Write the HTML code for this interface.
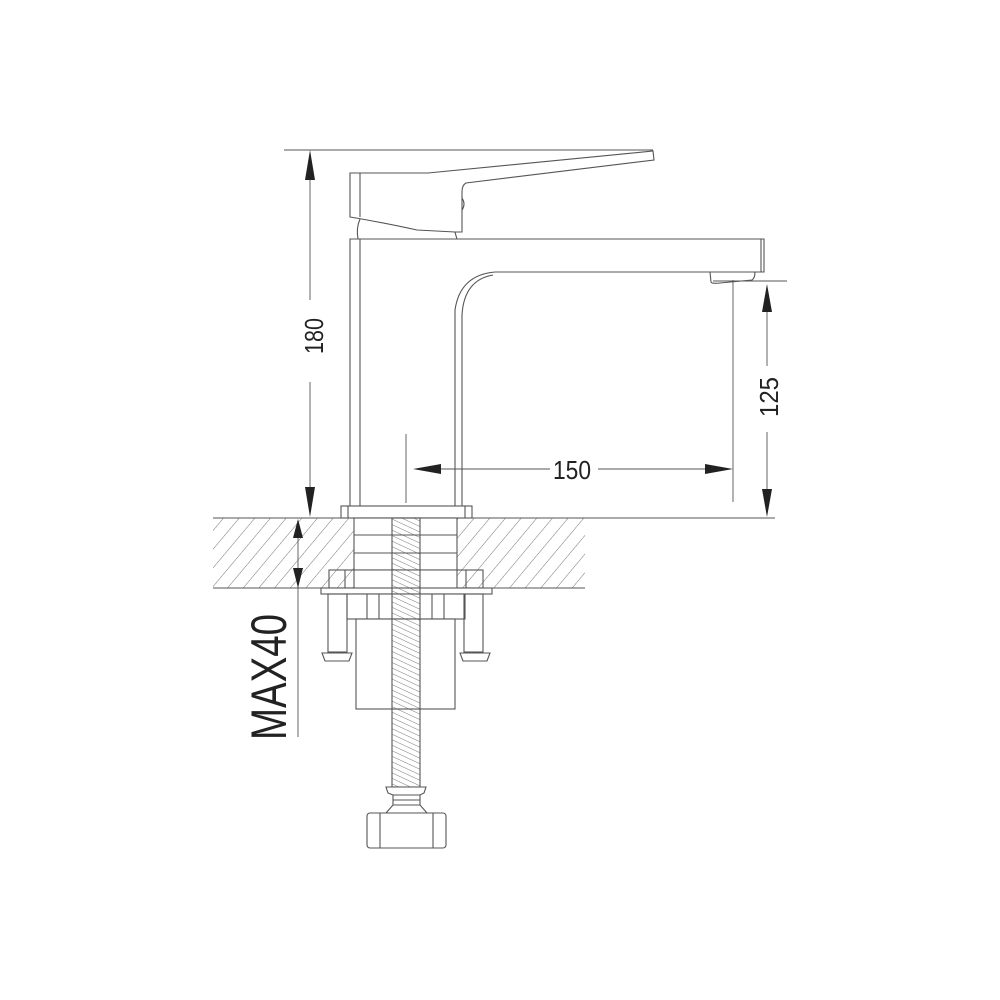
<!DOCTYPE html>
<html><head><meta charset="utf-8"><style>
html,body{margin:0;padding:0;background:#fff;}
svg{display:block;}
text{font-family:"Liberation Sans",sans-serif;fill:#222;}
</style></head><body>
<svg width="1000" height="1000" viewBox="0 0 1000 1000" xmlns="http://www.w3.org/2000/svg">
<defs>
<pattern id="h" patternUnits="userSpaceOnUse" width="12" height="12" patternTransform="rotate(40)">
<line x1="0" y1="0" x2="0" y2="12" stroke="#666" stroke-width="0.9"/>
</pattern>
<pattern id="t" patternUnits="userSpaceOnUse" width="5" height="5" patternTransform="rotate(-65)">
<line x1="0" y1="0" x2="0" y2="5" stroke="#555" stroke-width="0.8"/>
</pattern>
</defs>
<rect width="1000" height="1000" fill="#fff"/>
<g fill="none" stroke="#555" stroke-width="1.1">
<rect x="213" y="518" width="141" height="70" fill="url(#h)" stroke="none"/>
<rect x="457" y="518" width="128" height="70" fill="url(#h)" stroke="none"/>
<line x1="213" y1="518" x2="341" y2="518"/>
<line x1="471" y1="518" x2="775" y2="518"/>
<line x1="213" y1="588" x2="321" y2="588"/>
<line x1="492" y1="588" x2="585" y2="588"/>
<path d="M350,173 L428,173 L653,151 L654,160 L466,183 Q462,185 462,192 L462,232 L455,232 L417,230 Q380,222 350,217 Z" fill="#fff"/>
<line x1="360" y1="173" x2="360" y2="217"/>
<path d="M360,219 Q356,228 358,239"/>
<path d="M455,232 Q456,236 457,239"/>
<path d="M462,198 Q466,204 462,210"/>
<path d="M350,506 L350,239 L764,239 L764,272 L495,272 Q460,275 455,310 L455,506"/>
<line x1="360" y1="239" x2="360" y2="506"/>
<line x1="761" y1="239" x2="761" y2="272"/>
<path d="M493,275 Q464,280 462,315 L462,506"/>
<path d="M710,272 L711,282 Q712,284 720,283 L752,280 Q755,278 755,272"/>
<rect x="341" y="506" width="131" height="12" fill="#fff"/>
<line x1="348" y1="506" x2="348" y2="518"/>
<line x1="465" y1="506" x2="465" y2="518"/>
<rect x="354" y="518" width="103" height="52" fill="#fff"/>
<line x1="354" y1="535" x2="457" y2="535"/>
<line x1="354" y1="553" x2="457" y2="553"/>
<rect x="329" y="570" width="154" height="18"/>
<line x1="345" y1="570" x2="345" y2="588"/>
<line x1="466" y1="570" x2="466" y2="588"/>
<rect x="354" y="570" width="103" height="18" fill="#fff" stroke="none"/>
<line x1="354" y1="570" x2="457" y2="570"/>
<line x1="354" y1="570" x2="354" y2="588"/>
<line x1="457" y1="570" x2="457" y2="588"/>
<rect x="321" y="588" width="171" height="6" fill="#fff"/>
<rect x="347" y="594" width="118" height="25" fill="#fff"/>
<line x1="367" y1="594" x2="367" y2="619"/>
<line x1="379" y1="594" x2="379" y2="619"/>
<line x1="432" y1="594" x2="432" y2="619"/>
<line x1="444" y1="594" x2="444" y2="619"/>
<rect x="328" y="594" width="19" height="58"/>
<path d="M322,653 L352,653 L349,661 L325,661 Z"/>
<rect x="464" y="594" width="19" height="58"/>
<path d="M460,653 L490,653 L487,661 L463,661 Z"/>
<rect x="356" y="619" width="99" height="90" fill="#fff"/>
<rect x="392" y="518" width="28" height="269" fill="url(#t)"/>
<path d="M386,787 L426,787 L424,793 L420,795 L393,795 L388,793 Z" fill="#fff"/>
<path d="M393,795 L393,805 M420,795 L420,805 M393,800 L420,800"/>
<path d="M393,805 L420,805 L427,813 L386,813 Z" fill="#fff"/>
<rect x="367" y="813" width="79" height="35" rx="3" fill="#fff"/>
<line x1="380" y1="813" x2="380" y2="848"/>
<line x1="433" y1="813" x2="433" y2="848"/>
</g>
<g stroke="#555" stroke-width="0.9" fill="none">
<line x1="284" y1="150" x2="653" y2="150"/>
<line x1="310" y1="160" x2="310" y2="300"/>
<line x1="310" y1="382" x2="310" y2="500"/>
<line x1="406" y1="434" x2="406" y2="503"/>
<line x1="420" y1="469" x2="550" y2="469"/>
<line x1="598" y1="469" x2="725" y2="469"/>
<line x1="733" y1="280" x2="733" y2="502"/>
<line x1="713" y1="281" x2="787" y2="281"/>
<line x1="767" y1="295" x2="767" y2="366"/>
<line x1="767" y1="432" x2="767" y2="505"/>
<line x1="298" y1="530" x2="298" y2="737"/>
</g>
<g fill="#222">
<path d="M310,150 L305,180 L315,180 Z"/>
<path d="M310,517 L305,487 L315,487 Z"/>
<path d="M413,469 L441,464 L441,474 Z"/>
<path d="M733,469 L705,464 L705,474 Z"/>
<path d="M767,284 L762,312 L772,312 Z"/>
<path d="M767,517 L762,489 L772,489 Z"/>
<path d="M298,519 L293,538 L303,538 Z"/>
<path d="M298,588 L293,568 L303,568 Z"/>
</g>
<text x="553" y="479" font-size="26" textLength="38" lengthAdjust="spacingAndGlyphs">150</text>
<text transform="translate(323,354) rotate(-90)" font-size="26" textLength="36" lengthAdjust="spacingAndGlyphs">180</text>
<text transform="translate(778,417) rotate(-90)" font-size="26" textLength="40" lengthAdjust="spacingAndGlyphs">125</text>
<text transform="translate(286,740) rotate(-90)" font-size="50" textLength="126" lengthAdjust="spacingAndGlyphs">MAX40</text>
</svg>
</body></html>
